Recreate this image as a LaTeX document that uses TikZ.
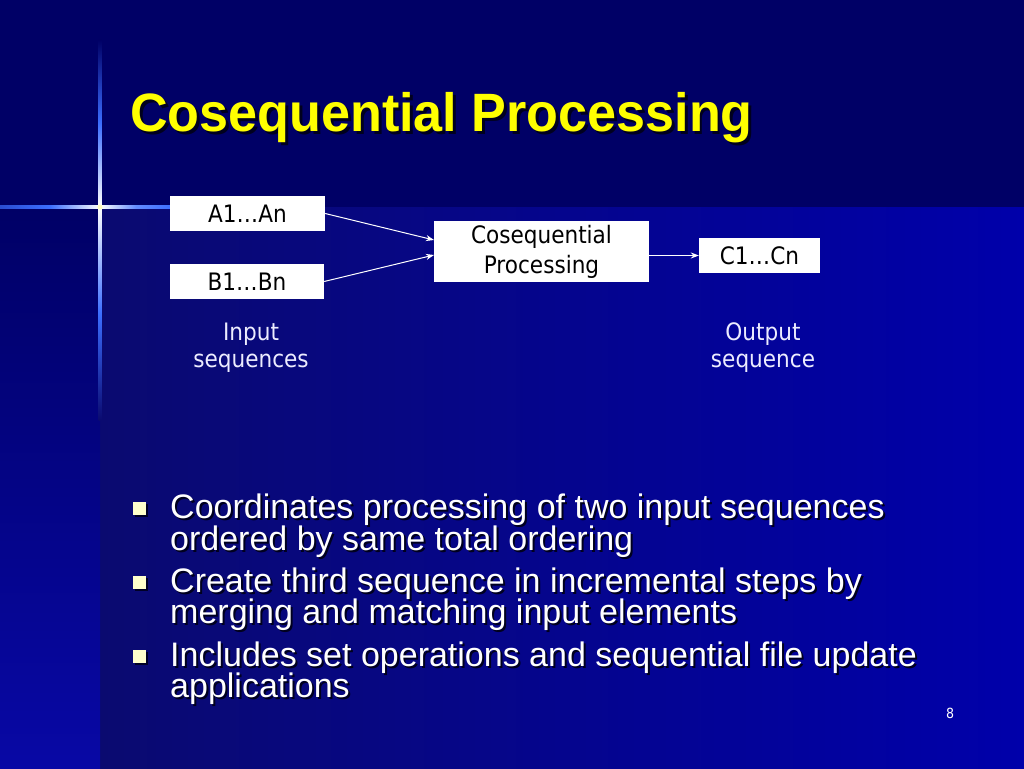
\documentclass[tikz,border=0pt]{standalone}
\usepackage{fontspec}
\setmainfont{Liberation Sans}
\newfontfamily\tahfont{DejaVu Sans}[FakeStretch=0.9]
\usetikzlibrary{arrows.meta,shadows}
\definecolor{navy}{RGB}{0,0,102}
\definecolor{mainL}{RGB}{10,10,112}
\definecolor{mainR}{RGB}{0,0,170}
\definecolor{stripB}{RGB}{8,8,165}
\definecolor{titleY}{RGB}{255,255,0}
\definecolor{shadowc}{RGB}{0,0,30}
\definecolor{bulletc}{RGB}{255,255,204}
\definecolor{labelc}{RGB}{236,236,255}
\definecolor{glowc}{RGB}{60,110,255}
\newcommand\shadtext[2]{\rlap{\kern#1\raisebox{-#1}{\textcolor{shadowc}{#2}}}#2}
\tikzset{
  boxnode/.style={fill=white, inner sep=0pt, text=black, align=center,
    font=\tahfont\fontsize{24}{30}\selectfont},
  lbl/.style={anchor=base, inner sep=0pt, text=labelc,
    font=\tahfont\fontsize{24}{30}\selectfont},
  conn/.style={draw=white, line width=1pt, -{Stealth[length=8pt,width=6pt]}},
  ttext/.style={anchor=base west, inner sep=0pt, text=titleY,
    font=\bfseries\fontsize{54}{60}\selectfont},
  btext/.style={anchor=base west, inner sep=0pt, text=white,
    font=\fontsize{34}{40}\selectfont},
  bsq/.style={fill=bulletc, minimum size=13pt, inner sep=0pt,
    drop shadow={opacity=0.9, fill=shadowc, shadow xshift=2pt, shadow yshift=-2pt}},
}
\begin{document}
\begin{tikzpicture}[x=1pt,y=1pt]
\useasboundingbox (0,0) rectangle (1024,-768);
% background
\fill[navy] (0,0) rectangle (1024,-768);
\shade[left color=mainL, right color=mainR] (100,-207) rectangle (1024,-768);
\shade[top color=navy, bottom color=stripB] (0,-207) rectangle (100,-768);
% glow cross
\shade[top color=navy, bottom color=white, middle color=glowc] (98.5,-40) rectangle (101.5,-207);
\shade[top color=white, bottom color=mainL, middle color=glowc] (98.5,-207) rectangle (101.5,-420);
\shade[left color=glowc!70!navy, right color=white, middle color=glowc] (0,-205.5) rectangle (100,-208.5);
\shade[left color=white, right color=glowc, middle color=glowc!80!white] (100,-205.5) rectangle (172,-208.5);
\fill[yellow!25!white] (100,-207) circle (2.5);
% title
\node[ttext] (title) at (130,-131) {\scalebox{0.965}[1]{\shadtext{3pt}{Cosequential Processing}}};
% diagram
\node[boxnode, minimum width=155pt, minimum height=35pt] (A) at (247.5,-213.5) {A1…An};
\node[boxnode, minimum width=154pt, minimum height=35pt] (B) at (247,-281.5) {B1…Bn};
\node[boxnode, minimum width=215pt, minimum height=61pt] (P) at (541.5,-251.5) {Cosequential\\Processing};
\node[boxnode, minimum width=121pt, minimum height=35pt] (C) at (759.5,-255.5) {C1…Cn};
\coordinate (pA) at (434,-240);
\coordinate (pB) at (434,-255);
\draw[conn] (A.east) -- (pA);
\draw[conn] (B.east) -- (pB);
\draw[conn] (P.east |- C.west) -- (C.west);
\node[lbl] (in1) at (251,-340) {Input};
\node[lbl] (in2) at (251,-367) {sequences};
\node[lbl] (out1) at (763,-340) {Output};
\node[lbl] (out2) at (763,-367) {sequence};
% bullets
\node[bsq] (s1) at (139.5,-508.5) {};
\node[bsq] (s2) at (139.5,-582) {};
\node[bsq] (s3) at (139.5,-656) {};
\node[btext] (l1) at (170,-518) {\shadtext{2pt}{Coordinates processing of two input sequences}};
\node[btext] (l2) at (170,-550) {\shadtext{2pt}{ordered by same total ordering}};
\node[btext] (l3) at (170,-592) {\shadtext{2pt}{Create third sequence in incremental steps by}};
\node[btext] (l4) at (170,-623) {\shadtext{2pt}{merging and matching input elements}};
\node[btext] (l5) at (170,-666) {\shadtext{2pt}{Includes set operations and sequential file update}};
\node[btext] (l6) at (170,-697) {\shadtext{2pt}{applications}};
\node[font=\tahfont\fontsize{14}{16}\selectfont, text=white, inner sep=0pt] (pg) at (950,-713) {8};
\end{tikzpicture}
\end{document}
